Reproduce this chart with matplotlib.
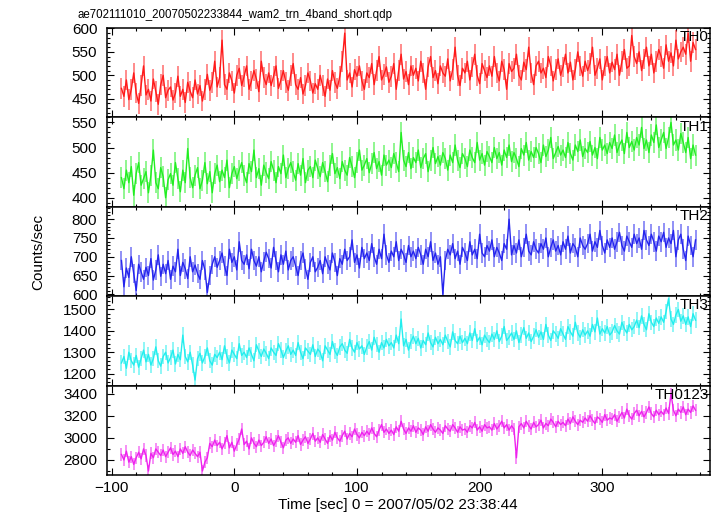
import numpy as np
import matplotlib
matplotlib.use("Agg")
import matplotlib.pyplot as plt
from matplotlib.ticker import MultipleLocator

plt.rcParams['font.family'] = ['Liberation Sans', 'DejaVu Sans']

TITLE = "ae702111010_20070502233844_wam2_trn_4band_short.qdp"
XLABEL = "Time [sec] 0 = 2007/05/02 23:38:44"
YLABEL = "Counts/sec"
BANDS = ["TH0", "TH1", "TH2", "TH3", "TH0123"]

TIME_START = -92.0   # first bin centre [s]
TIME_BIN = 2.0       # bin width [s]

TH0 = [
    472, 455, 490, 448, 470, 505, 462, 440, 478, 520,
    458, 470, 445, 492, 465, 438, 480, 500, 452, 468,
    475, 447, 462, 498, 455, 470, 442, 485, 466, 452,
    490, 460, 478, 445, 470, 502, 468, 485, 530, 475,
    495, 575, 480, 470, 505, 488, 462, 500, 515, 478,
    498, 520, 470, 488, 510, 492, 465, 530, 495, 480,
    505, 478, 498, 520, 472, 490, 510, 485, 468, 500,
    525, 480, 470, 495, 460, 478, 505, 488, 462, 482,
    470, 500, 478, 455, 492, 468, 510, 485, 472, 498,
    530, 590, 490, 505, 475, 512, 498, 520, 488, 470,
    505, 495, 525, 480, 510, 540, 490, 502, 518, 485,
    498, 525, 470, 510, 545, 492, 508, 480, 520, 500,
    515, 488, 530, 505, 470, 518, 540, 495, 510, 482,
    520, 505, 498, 535, 488, 512, 560, 500, 478, 515,
    505, 530, 490, 518, 545, 500, 482, 525, 510, 495,
    520, 498, 540, 505, 488, 530, 512, 470, 525, 508,
    515, 545, 500, 490, 528, 512, 560, 505, 480, 520,
    530, 505, 515, 495, 540, 520, 488, 512, 535, 500,
    518, 545, 505, 528, 490, 512, 550, 520, 498, 530,
    510, 525, 560, 500, 515, 535, 490, 520, 540, 505,
    528, 512, 545, 500, 530, 555, 515, 520, 585, 540,
    525, 550, 510, 535, 560, 520, 545, 505, 530, 555,
    540, 515, 565, 530, 548, 520, 575, 535, 550, 560,
    545, 590, 530, 570, 555,
]

TH1 = [
    440, 418, 455, 430, 462, 405, 448, 470, 425, 438,
    452, 410, 445, 495, 430, 418, 460, 442, 400, 436,
    448, 425, 470, 438, 412, 455, 430, 498, 440, 420,
    445, 460, 418, 435, 470, 428, 452, 410, 448, 465,
    432, 455, 440, 475, 420, 448, 462, 438, 455, 470,
    445, 430, 468, 452, 495, 440, 458, 425, 465, 450,
    438, 472, 455, 430, 462, 448, 485, 440, 458, 470,
    452, 435, 468, 445, 478, 430, 455, 462, 440, 475,
    458, 442, 470, 452, 432, 465, 488, 448, 460, 438,
    472, 455, 445, 480, 462, 440, 470, 495, 455, 465,
    478, 450, 468, 490, 458, 472, 445, 485, 465, 475,
    460, 488, 470, 452, 530, 475, 462, 490, 458, 480,
    470, 495, 460, 478, 488, 452, 475, 500, 468, 482,
    465, 490, 478, 455, 485, 470, 505, 475, 460, 488,
    478, 462, 495, 480, 470, 510, 475, 488, 465, 492,
    482, 470, 500, 478, 490, 465, 495, 480, 505, 472,
    490, 478, 462, 498, 485, 510, 475, 492, 480, 500,
    488, 470, 505, 482, 495, 520, 478, 490, 502, 485,
    495, 480, 510, 488, 475, 505, 492, 515, 482, 498,
    490, 512, 485, 500, 478, 520, 495, 505, 488, 510,
    498, 525, 490, 505, 515, 488, 530, 500, 512, 495,
    520, 505, 540, 498, 515, 490, 525, 510, 545, 500,
    515, 530, 498, 520, 550, 505, 515, 495, 528, 510,
    490, 520, 478, 505, 485,
]

TH2 = [
    690, 620, 670, 645, 700, 655, 610, 680, 660, 640,
    672, 650, 695, 638, 665, 705, 648, 680, 655, 690,
    640, 675, 660, 720, 650, 685, 668, 642, 700, 660,
    678, 655, 640, 690, 665, 605, 650, 680, 700, 672,
    690, 710, 675, 650, 720, 685, 700, 665, 740, 690,
    680, 705, 668, 720, 690, 675, 700, 660, 688, 712,
    695, 670, 725, 690, 660, 705, 680, 715, 665, 690,
    700, 675, 650, 690, 710, 668, 640, 685, 700, 660,
    672, 690, 655, 700, 680, 665, 710, 685, 650, 695,
    680, 720, 690, 700, 745, 685, 705, 670, 725, 695,
    710, 690, 735, 700, 680, 720, 695, 760, 705, 685,
    715, 700, 740, 690, 720, 705, 685, 730, 700, 715,
    695, 725, 705, 680, 720, 700, 740, 690, 710, 680,
    700, 600, 690, 720, 705, 735, 695, 715, 680, 725,
    710, 690, 740, 705, 720, 695, 760, 710, 700, 730,
    715, 745, 700, 725, 710, 690, 735, 720, 800, 705,
    730, 710, 745, 700, 725, 760, 715, 705, 740, 720,
    710, 735, 720, 750, 700, 725, 745, 715, 730, 705,
    740, 720, 755, 710, 735, 725, 700, 750, 730, 720,
    735, 760, 715, 740, 725, 770, 730, 710, 745, 725,
    750, 720, 740, 765, 730, 715, 755, 740, 725, 760,
    735, 750, 720, 770, 745, 730, 760, 740, 715, 755,
    740, 765, 725, 750, 735, 770, 700, 745, 760, 720,
    690, 755, 730, 700, 745,
]

TH3 = [
    1250, 1280, 1225, 1300, 1260, 1240, 1285, 1230, 1270, 1310,
    1255, 1290, 1240, 1270, 1325, 1260, 1235, 1280, 1300, 1250,
    1275, 1310, 1245, 1290, 1265, 1380, 1280, 1255, 1300, 1240,
    1170, 1270, 1295, 1250, 1280, 1320, 1260, 1240, 1290, 1275,
    1300, 1265, 1330, 1280, 1250, 1310, 1290, 1270, 1340, 1285,
    1300, 1275, 1320, 1290, 1260, 1335, 1305, 1280, 1315, 1295,
    1270, 1320, 1300, 1285, 1340, 1310, 1275, 1305, 1330, 1290,
    1310, 1285, 1345, 1300, 1270, 1320, 1305, 1290, 1335, 1280,
    1315, 1300, 1260, 1330, 1310, 1290, 1350, 1305, 1285, 1325,
    1340, 1310, 1295, 1360, 1320, 1300, 1345, 1315, 1330, 1290,
    1325, 1350, 1310, 1370, 1335, 1300, 1345, 1320, 1360, 1330,
    1345, 1320, 1380, 1340, 1455, 1330, 1360, 1310, 1350, 1375,
    1340, 1365, 1320, 1355, 1335, 1390, 1345, 1325, 1370, 1340,
    1360, 1335, 1380, 1350, 1325, 1395, 1355, 1340, 1375, 1345,
    1365, 1340, 1390, 1355, 1410, 1350, 1370, 1335, 1380, 1360,
    1345, 1385, 1360, 1400, 1350, 1375, 1420, 1355, 1370, 1390,
    1360, 1400, 1345, 1380, 1415, 1365, 1390, 1350, 1375, 1405,
    1370, 1395, 1360, 1430, 1380, 1355, 1400, 1385, 1365, 1410,
    1385, 1360, 1420, 1395, 1375, 1440, 1390, 1370, 1405, 1380,
    1400, 1375, 1430, 1395, 1460, 1385, 1410, 1390, 1420, 1380,
    1395, 1425, 1400, 1385, 1440, 1410, 1390, 1430, 1405, 1420,
    1450, 1415, 1470, 1430, 1405, 1480, 1440, 1420, 1460, 1435,
    1465, 1440, 1490, 1550, 1455, 1430, 1475, 1500, 1445, 1470,
    1430, 1465, 1420, 1480, 1450,
]

TH0123 = [
    2850, 2800, 2880, 2780, 2830, 2760, 2820, 2870, 2810, 2900,
    2840, 2700, 2860, 2820, 2900, 2870, 2840, 2890, 2830, 2870,
    2910, 2850, 2880, 2830, 2900, 2860, 2920, 2870, 2840, 2890,
    2860, 2830, 2870, 2700, 2780, 2820, 2950, 2920, 2980, 2930,
    2960, 2900, 2950, 3020, 2910, 2960, 2880, 2940, 2990, 3080,
    2940, 2970, 2900, 3000, 2950, 2920, 2980, 2930, 2960, 3010,
    2950, 2990, 2930, 2970, 3020, 2960, 2910, 2980, 3000, 2950,
    2990, 2960, 3020, 2940, 2980, 3010, 2950, 2990, 3040, 2970,
    3000, 2960, 3030, 2990, 2950, 3020, 2980, 3050, 3000, 2970,
    3020, 3060, 2990, 3040, 3010, 3080, 3030, 3000, 3050, 3020,
    3060, 3030, 3090, 3040, 3010, 3070, 3120, 3050, 3080, 3040,
    3070, 3030, 3100, 3060, 3150, 3080, 3040, 3090, 3060, 3110,
    3050, 3090, 3070, 3030, 3100, 3060, 3120, 3080, 3050, 3090,
    3070, 3040, 3110, 3080, 3060, 3120, 3090, 3050, 3100, 3070,
    3080, 3050, 3110, 3090, 3140, 3070, 3100, 3060, 3120, 3090,
    3100, 3070, 3130, 3080, 3110, 3150, 3090, 3120, 3070, 3110,
    3080, 2820, 3100, 3130, 3090, 3150, 3110, 3080, 3140, 3100,
    3120, 3160, 3090, 3130, 3110, 3170, 3140, 3100, 3150, 3120,
    3140, 3110, 3170, 3130, 3190, 3150, 3120, 3160, 3140, 3180,
    3150, 3200, 3160, 3130, 3190, 3170, 3140, 3210, 3160, 3180,
    3170, 3210, 3150, 3190, 3230, 3180, 3260, 3200, 3170, 3220,
    3250, 3200, 3240, 3190, 3230, 3280, 3220, 3190, 3250, 3210,
    3240, 3210, 3270, 3220, 3400, 3250, 3200, 3260, 3230, 3280,
    3210, 3260, 3230, 3290, 3250,
]

# typical 1-sigma error of each band [counts/sec]
ERRORS = [22, 21, 26, 36, 55]

SERIES = [TH0, TH1, TH2, TH3, TH0123]
COLORS = ["#ff1a1a", "#22ee22", "#2424ee", "#22eeee", "#ee22ee"]
YLIMS = [(410, 601), (382, 560), (595, 833), (1144, 1562), (2664, 3473)]
YMAJOR = [50, 50, 50, 100, 200]
YMINOR = [10, 10, 10, 20, 100]
XLIM = (-103.8, 387.8)

W, H = 717, 516
fig = plt.figure(figsize=(W / 100, H / 100), dpi=100)

left = 107 / W
right = 710 / W
top_px, bot_px = 28, 475
ph = (bot_px - top_px) / 5.0

for i, (name, vals, col, ylim, ymaj, ymin, err) in enumerate(
        zip(BANDS, SERIES, COLORS, YLIMS, YMAJOR, YMINOR, ERRORS)):
    y0 = 1 - (top_px + (i + 1) * ph) / H
    ax = fig.add_axes([left, y0, right - left, ph / H])
    vals = np.asarray(vals, dtype=float)
    t = TIME_START + TIME_BIN * np.arange(len(vals))
    ax.vlines(t, vals - err, vals + err, color=col, alpha=0.5, lw=1.4)
    ax.plot(t, vals, color=col, lw=1.0)
    ax.set_xlim(*XLIM)
    ax.set_ylim(*ylim)
    ax.xaxis.set_major_locator(MultipleLocator(100))
    ax.xaxis.set_minor_locator(MultipleLocator(20))
    ax.yaxis.set_major_locator(MultipleLocator(ymaj))
    ax.yaxis.set_minor_locator(MultipleLocator(ymin))
    ax.tick_params(which='both', direction='in', top=True, right=True,
                   width=0.8, labelsize=11)
    ax.tick_params(which='major', length=5)
    ax.tick_params(which='minor', length=2.5)
    ax.tick_params(axis='y', pad=7)
    ax.tick_params(axis='x', pad=4)
    for s in ax.spines.values():
        s.set_linewidth(1.1)
    ax.text(0.998, 0.975, name, transform=ax.transAxes, ha='right', va='top',
            fontsize=11)
    if i < 4:
        ax.tick_params(labelbottom=False)

fig.text(78 / W, 1 - 15 / H, TITLE, ha='left', va='center', fontsize=8.3)
fig.text(38 / W, 1 - 251.5 / H, YLABEL, rotation=90, ha='center',
         va='center', fontsize=11)
fig.text(397.5 / W, 1 - 505 / H, XLABEL, ha='center', va='center',
         fontsize=11)

fig.savefig("out.png", dpi=100)
